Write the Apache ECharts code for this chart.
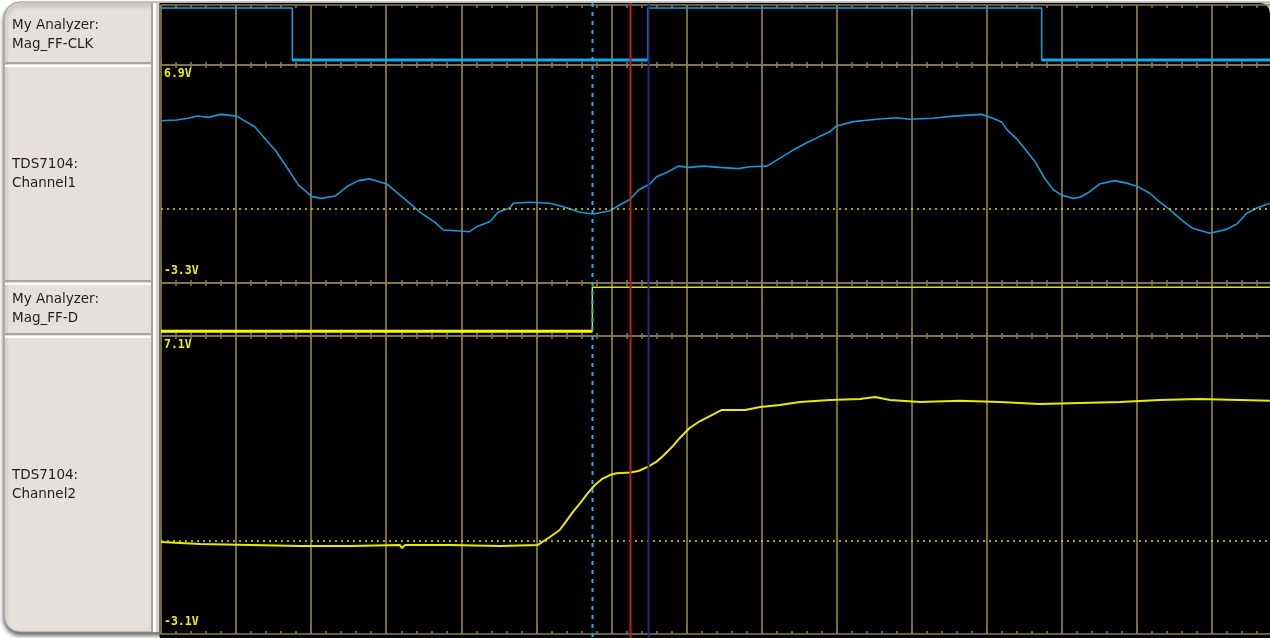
<!DOCTYPE html>
<html>
<head>
<meta charset="utf-8">
<script src="https://cdn.jsdelivr.net/npm/echarts@6/dist/echarts.min.js"></script>
<style>
  html, body { margin: 0; padding: 0; background: #ffffff; }
  #chart { width: 1270px; height: 638px; }
</style>
</head>
<body>
<div id="chart"></div>
<script>
// ---- Time base (horizontal screen divisions) ----
const timeSpan = [0, 15];
const cursorTimes = [5.745, 6.244, 6.484];

// ---- Row captions ----
const rowCaptions = [
  ['My Analyzer:', 'Mag_FF-CLK'],
  ['TDS7104:', 'Channel1'],
  ['My Analyzer:', 'Mag_FF-D'],
  ['TDS7104:', 'Channel2']
];

// ---- Digital traces: edge times and the level that follows each edge ----
const clkTimes = [0, 1.749, 6.484, 11.73, 15];
const clkLevels = [1, 0, 1, 0, 0];
const dTimes = [0, 5.745, 15];
const dLevels = [0, 1, 1];

// ---- Analog channel 1 (volts) ----
const ch1Range = [-3.3, 6.9];
const ch1Ref = 0.16;
const ch1Times = [0.00, 0.21, 0.36, 0.49, 0.63, 0.79, 1.01, 1.09, 1.25, 1.38, 1.52, 1.70, 1.83, 2.01, 2.14, 2.32,
  2.49, 2.63, 2.78, 3.01, 3.12, 3.29, 3.47, 3.65, 3.76, 3.98, 4.11, 4.20, 4.38, 4.49, 4.65, 4.69, 4.91, 5.18,
  5.36, 5.58, 5.76, 5.98, 6.11, 6.25, 6.36, 6.51, 6.60, 6.73, 6.89, 7.04, 7.22, 7.44, 7.69, 7.84, 8.07, 8.24,
  8.42, 8.60, 8.77, 8.91, 9.00, 9.22, 9.53, 9.80, 9.97, 10.28, 10.55, 10.93, 11.08, 11.19, 11.28, 11.39, 11.50,
  11.64, 11.77, 11.88, 11.99, 12.15, 12.24, 12.37, 12.50, 12.70, 12.88, 13.01, 13.17, 13.30, 13.44, 13.59, 13.74,
  13.97, 14.19, 14.33, 14.46, 14.59, 14.77];
const ch1Volts = [4.29, 4.33, 4.41, 4.51, 4.45, 4.59, 4.51, 4.33, 4.01, 3.47, 2.92, 1.99, 1.29, 0.74, 0.66, 0.77,
  1.24, 1.49, 1.57, 1.33, 1.00, 0.50, -0.04, -0.46, -0.82, -0.87, -0.90, -0.67, -0.43, 0.01, 0.22, 0.43, 0.48, 0.43,
  0.27, 0.01, -0.07, 0.08, 0.35, 0.62, 1.05, 1.33, 1.67, 1.86, 2.17, 2.11, 2.17, 2.11, 2.05, 2.14, 2.17, 2.53,
  2.92, 3.26, 3.55, 3.78, 4.05, 4.25, 4.36, 4.43, 4.36, 4.41, 4.51, 4.59, 4.41, 4.25, 3.83, 3.47, 3.00,
  2.38, 1.60, 1.08, 0.82, 0.66, 0.71, 0.97, 1.33, 1.49, 1.36, 1.21, 0.90, 0.50, 0.12, -0.35, -0.74,
  -0.97, -0.79, -0.54, -0.04, 0.20, 0.43];

// ---- Analog channel 2 (volts) ----
const ch2Range = [-3.1, 7.1];
const ch2Ref = 0.08;
const ch2Times = [0.00, 0.52, 1.19, 1.85, 2.52, 3.18, 3.21, 3.25, 3.85, 4.51, 5.02, 5.18, 5.31, 5.40, 5.49, 5.58,
  5.69, 5.78, 5.87, 5.98, 6.07, 6.25, 6.36, 6.49, 6.60, 6.69, 6.82, 6.91, 7.04, 7.18, 7.31, 7.47, 7.78, 7.98,
  8.24, 8.51, 8.91, 9.31, 9.51, 9.71, 10.11, 10.64, 11.17, 11.70, 12.24, 12.77, 13.30, 13.83, 14.37, 14.77];
const ch2Volts = [0.05, -0.02, -0.05, -0.09, -0.09, -0.05, -0.16, -0.05, -0.05, -0.09, -0.05, 0.22, 0.46, 0.77, 1.09, 1.37,
  1.74, 2.00, 2.20, 2.34, 2.40, 2.43, 2.48, 2.63, 2.80, 3.00, 3.34, 3.61, 3.95, 4.19, 4.36, 4.57, 4.57, 4.67,
  4.74, 4.84, 4.91, 4.94, 5.01, 4.91, 4.84, 4.88, 4.84, 4.77, 4.81, 4.84, 4.91, 4.94, 4.91, 4.88];

// ---- Styling ----
const gridColor = '#a08e55';
const sepColor = '#8a7b54';
const scaleLabelColor = '#f0f000';

const rows = [
  { top: 5, height: 60, yMin: -0.096, yMax: 1.058 },
  { top: 65, height: 218, yMin: ch1Range[0], yMax: ch1Range[1] },
  { top: 283, height: 53, yMin: -0.107, yMax: 1.098 },
  { top: 336, height: 298, yMin: ch2Range[0], yMax: ch2Range[1] }
];

const zip = (ts, vs) => ts.map((t, i) => [t, vs[i]]);

// Heavier stroke for the low portions of a digital trace
function lowSegments(ts, levels) {
  const out = [];
  for (let i = 0; i < ts.length - 1; i++) {
    if (levels[i] === 0) {
      if (out.length) out.push(['-', '-']);
      out.push([ts[i], 0], [ts[i + 1], 0]);
    }
  }
  return out;
}

const chart = echarts.init(document.getElementById('chart'), null, { renderer: 'canvas' });

// 15 divisions, the last one partly beyond the right edge of the window
const grids = rows.map(r => ({
  left: 161, width: 1126.2, top: r.top, height: r.height,
  containLabel: false, outerBoundsMode: 'none'
}));

const xAxes = [];
rows.forEach((r, i) => {
  ['bottom', 'top'].forEach(pos => {
    xAxes.push({
      type: 'value', gridIndex: i, position: pos,
      min: timeSpan[0], max: timeSpan[1], interval: 1,
      axisLine: { show: true, onZero: false, lineStyle: { color: sepColor, width: 1.5 } },
      axisTick: { show: true, inside: true, length: 3, lineStyle: { color: sepColor, width: 1.5 } },
      minorTick: { show: true, splitNumber: 5, length: 3, lineStyle: { color: sepColor, width: 1.5 } },
      axisLabel: { show: false },
      splitLine: { show: pos === 'bottom', lineStyle: { color: gridColor, width: 1.5 } },
      minorSplitLine: { show: false }
    });
  });
});

const yAxes = rows.map((r, i) => ({
  type: 'value', gridIndex: i, min: r.yMin, max: r.yMax, show: false,
  splitLine: { show: false }
}));

const refLine = (level) => ({
  silent: true, symbol: ['none', 'none'], animation: false,
  label: { show: false },
  lineStyle: { color: '#dede00', type: [2, 4], width: 1.6 },
  data: [{ yAxis: level }]
});

const series = [
  { type: 'line', xAxisIndex: 0, yAxisIndex: 0, step: 'end', symbol: 'none',
    data: zip(clkTimes, clkLevels), lineStyle: { color: '#1a9fdc', width: 1.5 } },
  { type: 'line', xAxisIndex: 0, yAxisIndex: 0, symbol: 'none',
    data: lowSegments(clkTimes, clkLevels), lineStyle: { color: '#14a8ea', width: 3 } },
  { type: 'line', xAxisIndex: 2, yAxisIndex: 1, symbol: 'none',
    data: zip(ch1Times, ch1Volts), lineStyle: { color: '#1898d6', width: 1.6 },
    markLine: refLine(ch1Ref) },
  { type: 'line', xAxisIndex: 4, yAxisIndex: 2, step: 'end', symbol: 'none',
    data: zip(dTimes, dLevels), lineStyle: { color: '#e2e200', width: 1.5 } },
  { type: 'line', xAxisIndex: 4, yAxisIndex: 2, symbol: 'none',
    data: lowSegments(dTimes, dLevels), lineStyle: { color: '#ffff00', width: 3 } },
  { type: 'line', xAxisIndex: 6, yAxisIndex: 3, symbol: 'none',
    data: zip(ch2Times, ch2Volts), lineStyle: { color: '#eaea00', width: 2 },
    markLine: refLine(ch2Ref) }
];

chart.setOption({
  animation: false,
  backgroundColor: '#ffffff',
  grid: grids,
  xAxis: xAxes,
  yAxis: yAxes,
  series: series
});

// ---- Frame, caption panel, scale labels and cursors ----
const els = [];
// window body
els.push({ type: 'rect', z: -20, shape: { x: 4, y: 2, width: 1290, height: 630, r: 16 },
  style: { fill: '#e6e0dc', stroke: '#9a9a9a', lineWidth: 1, shadowBlur: 4, shadowOffsetY: 3, shadowColor: 'rgba(0,0,0,0.6)' } });
// scope display background
els.push({ type: 'rect', z: -15, shape: { x: 160, y: 3, width: 1110, height: 640, r: [0, 10, 0, 0] },
  style: { fill: '#000000' } });
// splitter between captions and display
els.push({ type: 'rect', z: -14, shape: { x: 151, y: 3, width: 2, height: 629 }, style: { fill: '#a8a4a0' } });
els.push({ type: 'rect', z: -14, shape: { x: 153, y: 3, width: 3, height: 629 }, style: { fill: '#fafafa' } });
els.push({ type: 'rect', z: -14, shape: { x: 156, y: 3, width: 3, height: 629 }, style: { fill: '#d2cfcc' } });
els.push({ type: 'rect', z: -14, shape: { x: 159, y: 3, width: 1, height: 634 }, style: { fill: '#6e6a60' } });

rows.forEach((r, i) => {
  if (i > 0) {
    els.push({ type: 'rect', z: -13, shape: { x: 5, y: r.top - 3, width: 146, height: 2 }, style: { fill: '#a9a5a1' } });
    els.push({ type: 'rect', z: -13, shape: { x: 5, y: r.top, width: 146, height: 2 }, style: { fill: '#ffffff' } });
  }
  const c = r.top + r.height / 2;
  rowCaptions[i].forEach((line, k) => {
    els.push({ type: 'text', z: 5, x: 12, y: c + (k === 0 ? -10 : 9),
      style: { text: line, fill: '#1e1e1e', font: '13.5px "DejaVu Sans"',
        textAlign: 'left', textVerticalAlign: 'middle', align: 'left', verticalAlign: 'middle' } });
  });
});

// analog scale labels at the top and bottom of each channel
[[1, ch1Range], [3, ch2Range]].forEach(([axisIdx, range]) => {
  const yTop = chart.convertToPixel({ yAxisIndex: axisIdx }, range[1]);
  const yBot = chart.convertToPixel({ yAxisIndex: axisIdx }, range[0]);
  els.push({ type: 'text', z: 20, x: 164, y: yTop + 3,
    style: { text: range[1].toFixed(1) + 'V', fill: scaleLabelColor, font: 'bold 11.5px "DejaVu Sans Mono"',
      textAlign: 'left', textVerticalAlign: 'top', align: 'left', verticalAlign: 'top' } });
  els.push({ type: 'text', z: 20, x: 164, y: yBot - 6,
    style: { text: range[0].toFixed(1) + 'V', fill: scaleLabelColor, font: 'bold 11.5px "DejaVu Sans Mono"',
      textAlign: 'left', textVerticalAlign: 'bottom', align: 'left', verticalAlign: 'bottom' } });
});

// measurement cursors across all rows
const cursorStyles = [
  { stroke: '#1cb2ee', lineWidth: 2, lineDash: [4, 5] },
  { stroke: '#c41c1c', lineWidth: 2 },
  { stroke: '#2b2b86', lineWidth: 2 }
];
cursorTimes.forEach((t, i) => {
  const x = Math.round(chart.convertToPixel({ xAxisIndex: 0 }, t)) + 0.5;
  els.push({ type: 'line', z: 30, shape: { x1: x, y1: 3, x2: x, y2: 638 }, style: cursorStyles[i] });
});

chart.setOption({ graphic: [{ elements: els }] });
</script>
</body>
</html>
